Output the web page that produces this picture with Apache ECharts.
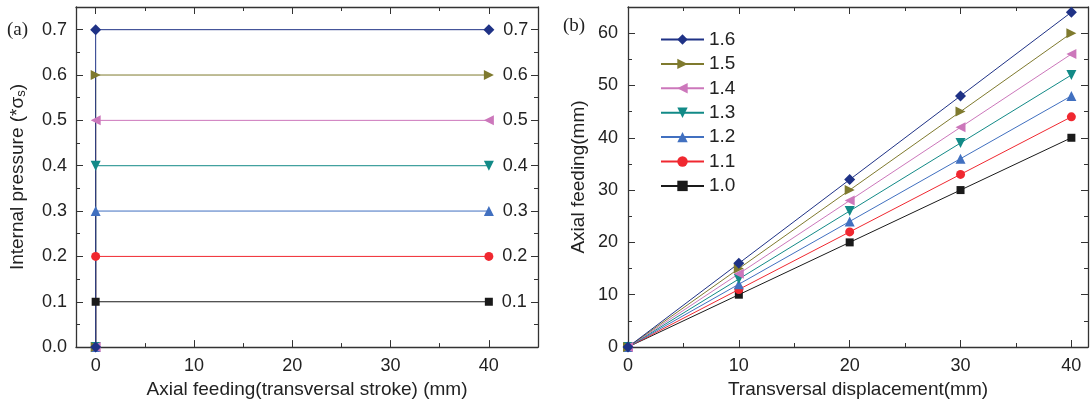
<!DOCTYPE html>
<html>
<head>
<meta charset="utf-8">
<script src="https://cdn.jsdelivr.net/npm/echarts@6/dist/echarts.min.js"></script>
<style>
html, body { margin: 0; padding: 0; background: #fff; }
#chart { width: 1090px; height: 404px; }
</style>
</head>
<body>
<div id="chart"></div>
<script>
// ---- panel (a): internal pressure vs axial feeding ----
var pressureLevels = [0.7, 0.6, 0.5, 0.4, 0.3, 0.2, 0.1];
var pressureStart = 0;
var feedingX = [0, 40];
var aXTicks = [0, 10, 20, 30, 40];
var aXMinor = [5, 15, 25, 35];
var aYTicks = [0, 0.1, 0.2, 0.3, 0.4, 0.5, 0.6, 0.7];
var aYMinor = [0.05, 0.15, 0.25, 0.35, 0.45, 0.55, 0.65];

// ---- panel (b): axial feeding vs transversal displacement ----
var displacement = [0, 10, 20, 30, 40];
var ratioNames = ['1.6', '1.5', '1.4', '1.3', '1.2', '1.1', '1.0'];
var feed16 = [0, 16, 32, 48, 64];
var feed15 = [0, 15, 30, 45, 60];
var feed14 = [0, 14, 28, 42, 56];
var feed13 = [0, 13, 26, 39, 52];
var feed12 = [0, 12, 24, 36, 48];
var feed11 = [0, 11, 22, 33, 44];
var feed10 = [0, 10, 20, 30, 40];
var bXTicks = [0, 10, 20, 30, 40];
var bXMinor = [5, 15, 25, 35];
var bYTicks = [0, 10, 20, 30, 40, 50, 60];
var bYMinor = [5, 15, 25, 35, 45, 55, 65];

// styles, from top curve to bottom curve
var colors = ['#1f3286', '#7f7a2e', '#cc77bb', '#128a87', '#4170c0', '#f02830', '#1a1a1a'];
var symbols = ['diamond', 'triangle', 'triangle', 'triangle', 'triangle', 'circle', 'rect'];
var rotates = [0, -90, 90, 180, 0, 0, 0];
var sizes = [11, 10, 10, 10, 10, 9, 8];

var ink = '#222';
var font = 'Liberation Sans';

// one main axis + minor ticks + mirrored axis with both tick sets
function frameAxes(dim, grid, min, max, major, minor, main) {
    var near = dim === 'x' ? 'bottom' : 'left';
    var far = dim === 'x' ? 'top' : 'right';
    var line = { show: true, onZero: false, lineStyle: { color: '#333', width: 1.3 } };
    var hidden = { show: false, onZero: false };
    var base = { type: 'value', gridIndex: grid, min: min, max: max, splitLine: { show: false } };
    var list = [];
    list.push(Object.assign({}, base, main, {
        position: near,
        axisLine: line,
        axisTick: { show: true, inside: true, length: 7, customValues: major, lineStyle: { color: '#333' } }
    }));
    list.push(Object.assign({}, base, {
        position: near,
        axisLine: hidden,
        axisLabel: { show: false },
        axisTick: { show: true, inside: true, length: 4, customValues: minor, lineStyle: { color: '#333' } }
    }));
    list.push(Object.assign({}, base, {
        position: far,
        axisLine: line,
        axisLabel: { show: false },
        axisTick: { show: true, inside: true, length: 7, customValues: major, lineStyle: { color: '#333' } }
    }));
    list.push(Object.assign({}, base, {
        position: far,
        axisLine: hidden,
        axisLabel: { show: false },
        axisTick: { show: true, inside: true, length: 4, customValues: minor, lineStyle: { color: '#333' } }
    }));
    return list;
}

var xAxes = [].concat(
    frameAxes('x', 0, -2, 45, aXTicks, aXMinor, {
        name: 'Axial feeding(transversal stroke) (mm)',
        nameLocation: 'middle', nameGap: 31,
        nameTextStyle: { fontSize: 19, color: ink, fontFamily: font },
        axisLabel: { customValues: aXTicks, fontSize: 18, color: ink, margin: 10, fontFamily: font }
    }),
    frameAxes('x', 1, 0, 41.5, bXTicks, bXMinor, {
        name: 'Transversal displacement(mm)',
        nameLocation: 'middle', nameGap: 33,
        nameTextStyle: { fontSize: 19, color: ink, fontFamily: font },
        axisLabel: { customValues: bXTicks, fontSize: 18, color: ink, margin: 10, fontFamily: font }
    })
);

var yAxes = [].concat(
    frameAxes('y', 0, 0, 0.75, aYTicks, aYMinor, {
        name: 'Internal pressure (*σ{s|s})',
        nameLocation: 'middle', nameGap: 48,
        nameTextStyle: {
            fontSize: 19, color: ink, fontFamily: font,
            rich: { s: { fontSize: 13, color: ink, fontFamily: font, padding: [8, 0, 0, 0] } }
        },
        axisLabel: {
            customValues: aYTicks, fontSize: 18, color: ink, margin: 9, fontFamily: font,
            formatter: function (v) { return v.toFixed(1); }
        }
    }),
    frameAxes('y', 1, 0, 65, bYTicks, bYMinor, {
        name: 'Axial feeding(mm)',
        nameLocation: 'middle', nameGap: 40,
        nameTextStyle: { fontSize: 19, color: ink, fontFamily: font },
        axisLabel: { customValues: bYTicks, fontSize: 18, color: ink, margin: 10, fontFamily: font }
    })
);

var series = [];

// panel (a): drawn bottom level first so the 0.7 riser sits on top
for (var i = pressureLevels.length - 1; i >= 0; i--) {
    var p = pressureLevels[i];
    series.push({
        type: 'line',
        xAxisIndex: 0,
        yAxisIndex: 0,
        data: [
            [feedingX[0], pressureStart],
            [feedingX[0], p],
            {
                value: [feedingX[1], p],
                label: {
                    show: true, position: 'right', distance: 9,
                    fontSize: 18, color: ink, fontFamily: font,
                    formatter: p.toFixed(1)
                }
            }
        ],
        symbol: symbols[i],
        symbolRotate: rotates[i],
        symbolSize: sizes[i],
        showAllSymbol: true,
        lineStyle: { width: 1, color: colors[i] },
        itemStyle: { color: colors[i] },
        clip: false,
        animation: false
    });
}

// panel (b): lowest curve first, so upper markers overlap lower ones
var feeds = [feed16, feed15, feed14, feed13, feed12, feed11, feed10];
for (var k = feeds.length - 1; k >= 0; k--) {
    var vals = feeds[k];
    series.push({
        name: ratioNames[k],
        type: 'line',
        xAxisIndex: 4,
        yAxisIndex: 4,
        data: displacement.map(function (x, j) { return [x, vals[j]]; }),
        symbol: symbols[k],
        symbolRotate: rotates[k],
        symbolSize: sizes[k],
        lineStyle: { width: 1, color: colors[k] },
        itemStyle: { color: colors[k] },
        clip: false,
        animation: false
    });
}

var myChart = echarts.init(document.getElementById('chart'), null, { renderer: 'canvas' });

option = {
    backgroundColor: '#fff',
    animation: false,
    textStyle: { fontFamily: font },
    grid: [
        { left: 76, top: 7, width: 462, height: 343 },
        { left: 628, top: 7, right: 2, height: 340 }
    ],
    xAxis: xAxes,
    yAxis: yAxes,
    legend: {
        data: ratioNames,
        orient: 'vertical',
        left: 660,
        top: 30,
        padding: 0,
        itemWidth: 43,
        itemHeight: 13,
        itemGap: 5.4,
        textStyle: { fontSize: 19, color: ink, fontFamily: font }
    },
    graphic: [
        { type: 'text', left: 7, top: 21, style: { text: '(a)', fontSize: 19, fill: ink, fontFamily: 'Liberation Serif' } },
        { type: 'text', left: 563, top: 17, style: { text: '(b)', fontSize: 19, fill: ink, fontFamily: 'Liberation Serif' } }
    ],
    series: series
};
myChart.setOption(option);
</script>
</body>
</html>
